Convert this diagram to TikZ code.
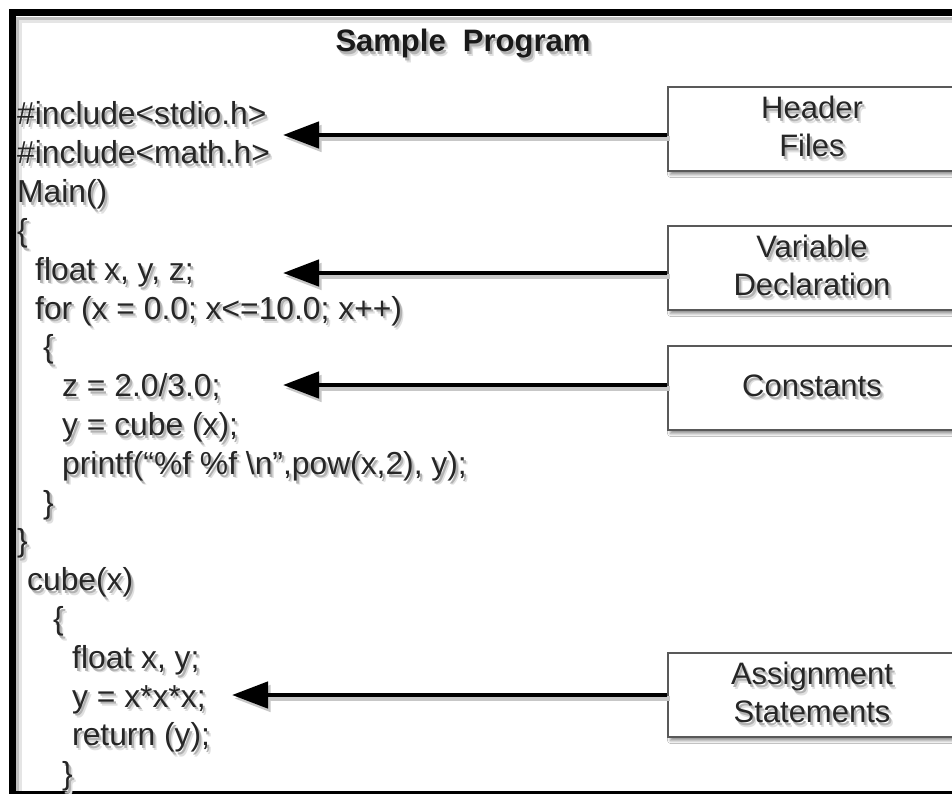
\documentclass[tikz,border=0pt]{standalone}
\usepackage{fontspec}
\setmainfont{Liberation Sans}
\usetikzlibrary{arrows.meta,shadows.blur}

% text with a soft grey drop shadow below and to the right
\newcommand\shtxt[1]{%
  \makebox[0pt][l]{\hspace{3.6pt}\raisebox{-4.6pt}{\textcolor{black!12}{#1}}}%
  \makebox[0pt][l]{\hspace{2.2pt}\raisebox{-2.8pt}{\textcolor{black!30}{#1}}}%
  #1}

\tikzset{
  code/.style={anchor=base west, inner sep=0pt, text=black!85,
    font=\fontsize{31.8}{38}\selectfont},
  label box/.style={draw=black!65, line width=1.8pt, fill=white,
    minimum width=288pt, minimum height=84pt, inner sep=0pt, align=center,
    text=black!85, font=\fontsize{31}{38}\selectfont,
    blur shadow={shadow xshift=2.5pt, shadow yshift=-3.5pt,
      shadow blur radius=3pt, shadow opacity=45}},
  pointer/.style={line width=4.6pt, draw=black,
    -{Triangle[length=36pt,width=26pt]},
    preaction={draw=black!22, line width=4.6pt,
      -{Triangle[length=36pt,width=26pt]},
      transform canvas={shift={(2.5pt,-3.5pt)}}}}
}

\begin{document}
\begin{tikzpicture}[x=1pt,y=-1pt]
\useasboundingbox[fill=white] (0,0) rectangle (952,794);

% outer frame and its inner shading
\draw[black!10, line width=4pt] (20,800) |- (960,21);
\draw[black!25, line width=2.5pt] (17.5,800) |- (960,18.5);
\draw[black, line width=7pt] (12.5,794) |- (962,13);
\draw[black, line width=7pt] (12.5,794) -- (962,794);

% title
\node[anchor=base, inner sep=0pt, text=black!90,
  font=\fontsize{31}{38}\selectfont\bfseries] (title) at (463,52)
  {\shtxt{Sample\ \ Program}};

% program listing, one node per line
\node[code] (l1)  at (17,125)   {\shtxt{\#include<stdio.h>}};
\node[code] (l2)  at (17,163.8) {\shtxt{\#include<math.h>}};
\node[code] (l3)  at (17,202.6) {\shtxt{Main()}};
\node[code] (l4)  at (17,241.4) {\shtxt{\{}};
\node[code] (l5)  at (35,280.2) {\shtxt{float x, y, z;}};
\node[code] (l6)  at (35,319)   {\shtxt{for (x = 0.0; x<=10.0; x++)}};
\node[code] (l7)  at (43,357.8) {\shtxt{\{}};
\node[code] (l8)  at (62,396.6) {\shtxt{z = 2.0/3.0;}};
\node[code] (l9)  at (62,435.4) {\shtxt{y = cube (x);}};
\node[code] (l10) at (62,474.2) {\shtxt{printf(“\%f \%f \textbackslash n”,pow(x,2), y);}};
\node[code] (l11) at (43,513)   {\shtxt{\}}};
\node[code] (l12) at (17,551.8) {\shtxt{\}}};
\node[code] (l13) at (27,590.6) {\shtxt{cube(x)}};
\node[code] (l14) at (53,629.4) {\shtxt{\{}};
\node[code] (l15) at (72,668.2) {\shtxt{float x, y;}};
\node[code] (l16) at (72,707)   {\shtxt{y = x*x*x;}};
\node[code] (l17) at (72,745.8) {\shtxt{return (y);}};
\node[code] (l18) at (62,784.6) {\shtxt{\}}};

% explanation boxes
\node[label box] (hdr)  at (812,129) {\shtxt{Header}\\\shtxt{Files}};
\node[label box] (decl) at (812,268) {\shtxt{Variable}\\\shtxt{Declaration}};
\node[label box] (cons) at (812,388) {\shtxt{Constants}};
\node[label box] (asg)  at (812,695) {\shtxt{Assignment}\\\shtxt{Statements}};

% arrow tips beside the listing
\coordinate (thdr)  at (283,135);
\coordinate (tdecl) at (283,273);
\coordinate (tcons) at (283,385);
\coordinate (tasg)  at (232,695);

\draw[pointer] (hdr.west |- thdr) -- (thdr);
\draw[pointer] (decl.west |- tdecl) -- (tdecl);
\draw[pointer] (cons.west |- tcons) -- (tcons);
\draw[pointer] (asg.west |- tasg) -- (tasg);
\end{tikzpicture}
\end{document}
